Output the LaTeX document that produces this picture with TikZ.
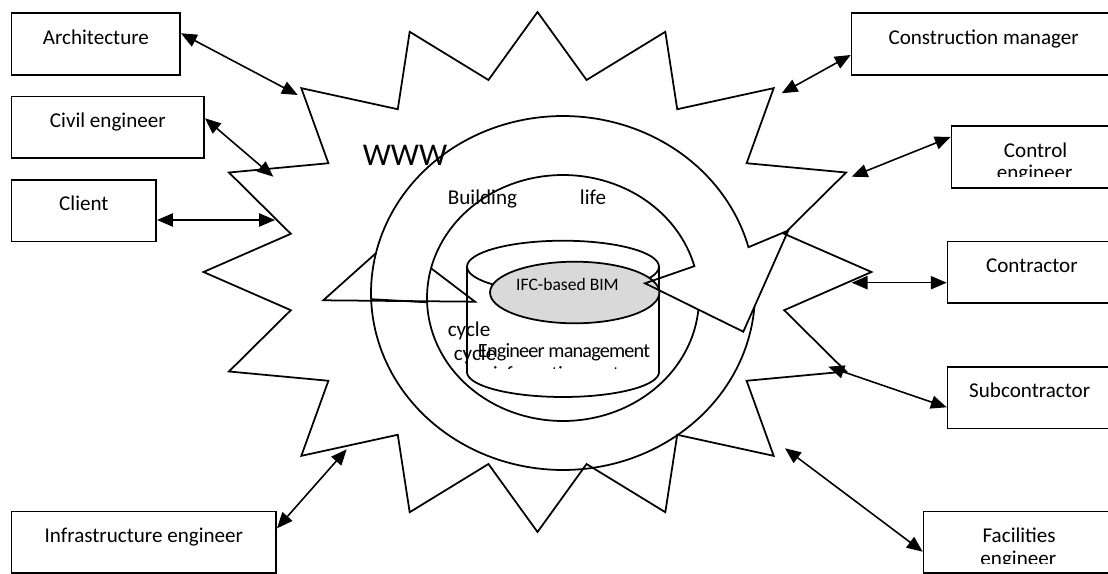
\documentclass[tikz,border=0pt]{standalone}
\usepackage{fontspec}
\setmainfont{Carlito}
\usetikzlibrary{arrows.meta,calc}
\definecolor{bimgrey}{HTML}{D9D9D9}
\begin{document}
\begin{tikzpicture}[x=0.02cm,y=-0.02cm,
  every node/.style={font=\fontsize{12pt}{14pt}\selectfont},
  rolebox/.style={draw,line width=1pt,anchor=north west,inner xsep=0pt,inner ysep=0pt,
    text height=17.6pt,text depth=17.5pt},
  link/.style={{Triangle[length=9pt,width=7.5pt]}-{Triangle[length=9pt,width=7.5pt]},line width=0.9pt},
  outline/.style={line width=1pt}]
\useasboundingbox (0,0) rectangle (1108,574);

% the web star
\begin{scope}[shift={(537.5,272)}]
\draw[outline,fill=white] (270:334 and 260)
  \foreach \k in {1,...,31}{
    -- ({270+11.25*\k}:{334*(1-0.247*mod(\k,2))} and {260*(1-0.247*mod(\k,2))})}
  -- cycle;
\end{scope}
\node[anchor=base,font=\fontsize{18pt}{21pt}\selectfont] (www) at (405,165.7) {WWW};

% participants
\node[rolebox,minimum width=3.372cm] (arch) at (10.7,12.3) {Architecture};
\node[rolebox,minimum width=3.852cm] (civil) at (10.7,95.7) {Civil engineer};
\node[rolebox,minimum width=2.892cm] (client) at (10.7,179) {Client};
\node[rolebox,minimum width=5.292cm] (infra) at (10.7,510.7) {Infrastructure engineer};
\node[rolebox,minimum width=5.284cm] (constr) at (850.7,12.3) {Construction manager};
\node[rolebox,minimum width=3.36cm] (ctrl) at (950.7,125.3) {Control};
\node[rolebox,minimum width=3.372cm] (contr) at (946.7,240.7) {Contractor};
\node[rolebox,minimum width=3.284cm] (sub) at (946.7,366) {Subcontractor};
\node[rolebox,minimum width=3.824cm] (fac) at (922.7,510.7) {Facilities};
\begin{scope}
  \clip (ctrl.north west) rectangle ($(ctrl.north east)+(0,51.4)$);
  \node[anchor=base] (ctrl2) at ($(ctrl.north west)+(84,54.5)$) {engineer};
\end{scope}
\begin{scope}
  \clip (fac.north west) rectangle ($(fac.north east)+(0,52.6)$);
  \node[anchor=base] (fac2) at ($(fac.north west)+(95.6,55)$) {engineer};
\end{scope}

% life cycle ring, lower part
\draw[outline] plot[domain=4.4:193,samples=100] ({563+192*cos(\x)},{293+177*sin(\x)});
\draw[outline] plot[domain=5.5:194,samples=100] ({563+136*cos(\x)},{298+123*sin(\x)});
\draw[outline] ({563+192*cos(178)},{293+177*sin(178)}) -- ({563+136*cos(178)},{298+123*sin(178)});

% information centre
\draw[outline,fill=white] (467,267) -- (467,372)
  -- plot[domain=180:0,samples=60] ({563+96*cos(\x)},{372+25*sin(\x)}) -- (659,267);
\draw[outline,fill=white] (563,266.7) ellipse [x radius=1.92cm,y radius=0.52cm];
\draw[outline,fill=bimgrey] (574.7,292.5) ellipse [x radius=1.694cm,y radius=0.616cm];

% life cycle arrow, upper part
\coordinate (ra1) at (788.3,230.5);
\coordinate (ra2) at (743.3,331.7);
\coordinate (tip) at (645,283.3);
\coordinate (la1) at (323.3,300.3);
\coordinate (la2) at (475,301.7);
\draw[outline] plot[domain=193:345,samples=90] ({563+192*cos(\x)},{293+177*sin(\x)})
  -- (ra1) -- (ra2) -- (tip)
  -- plot[domain=345:194,samples=90] ({563+136*cos(\x)},{298+123*sin(\x)})
  -- (la2) -- (la1) -- cycle;

\node[anchor=base] (bld) at (482.5,205) {Building};
\node[anchor=base] (life) at (593,205) {life};
\node[anchor=base] (cyc1) at (469,336) {cycle};
\node[anchor=base] (cyc2) at (475,360.5) {cycle};
\node[anchor=base,font=\fontsize{11.5pt}{13.3pt}\selectfont\addfontfeatures{LetterSpace=-4}] (emtext) at (564,357.3) {Engineer management};
\begin{scope}
  \clip (467,340) rectangle (659,368.5);
  \node[anchor=base,font=\fontsize{11.5pt}{13.3pt}\selectfont\addfontfeatures{LetterSpace=-4}] (emtext2) at (564,380.6) {information center};
\end{scope}
\node[anchor=base,font=\fontsize{10pt}{12pt}\selectfont] (ifc) at (567.5,290) {IFC-based BIM};

% links to the web
\coordinate (archend) at (297.7,95);
\coordinate (civilend) at (273.3,176.7);
\coordinate (clientend) at (275,220);
\coordinate (infraend) at (346.7,449.3);
\coordinate (constrend) at (781.7,93.3);
\coordinate (ctrlend) at (851.7,176.7);
\coordinate (contrend) at (851.7,282.7);
\coordinate (subend) at (828.3,366.7);
\coordinate (facend) at (785,448.3);
\draw[link] ($(arch.north east)+(0,21)$) -- (archend);
\draw[link] ($(civil.north east)+(0,22.6)$) -- (civilend);
\draw[link] ($(client.north east)+(0,41)$) -- (clientend);
\draw[link] ($(infra.north east)+(0,17.6)$) -- (infraend);
\draw[link] ($(constr.north west)+(0,42.7)$) -- (constrend);
\draw[link] ($(ctrl.north west)+(0,11.7)$) -- (ctrlend);
\draw[link] ($(contr.north west)+(0,42)$) -- (contrend);
\draw[link] ($(sub.north west)+(0,41.3)$) -- (subend);
\draw[link] ($(fac.north west)+(0,41)$) -- (facend);
\end{tikzpicture}
\end{document}
